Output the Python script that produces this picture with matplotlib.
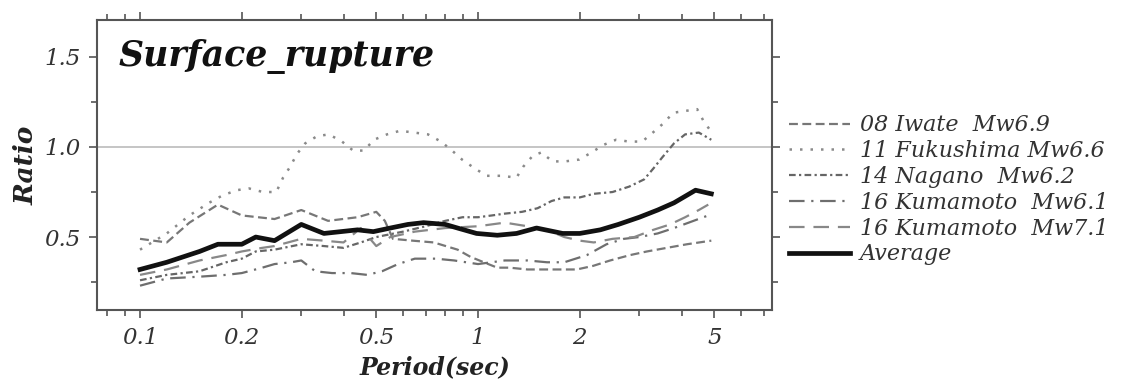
import matplotlib
matplotlib.use("Agg")
import matplotlib.pyplot as plt
from matplotlib.ticker import FixedLocator, NullFormatter

# ---- data ----
iwate_T = [0.1, 0.12, 0.14, 0.17, 0.2, 0.25, 0.3, 0.36, 0.44, 0.5, 0.53, 0.56, 0.64,
           0.74, 0.87, 0.95, 1.04, 1.14, 1.24, 1.4, 1.56, 1.75, 1.96, 2.19, 2.46,
           2.82, 3.16, 3.62, 4.15, 4.9]
iwate_R = [0.49, 0.47, 0.58, 0.68, 0.62, 0.60, 0.65, 0.59, 0.61, 0.64, 0.59, 0.49, 0.48,
           0.47, 0.43, 0.39, 0.36, 0.33, 0.33, 0.32, 0.32, 0.32, 0.32, 0.34, 0.37,
           0.40, 0.42, 0.44, 0.46, 0.48]

fuku_T = [0.1, 0.12, 0.14, 0.16, 0.175, 0.193, 0.21, 0.231, 0.253, 0.265, 0.278, 0.291,
          0.308, 0.334, 0.362, 0.396, 0.427, 0.46, 0.492, 0.538, 0.588, 0.647, 0.711,
          0.777, 0.838, 0.897, 0.98, 1.06, 1.17, 1.3, 1.36, 1.45, 1.54, 1.66, 1.81,
          1.99, 2.17, 2.34, 2.56, 2.8, 3.06, 3.29, 3.53, 3.78, 4.1, 4.45, 4.66, 4.92]
fuku_R = [0.43, 0.52, 0.62, 0.69, 0.73, 0.76, 0.77, 0.75, 0.75, 0.83, 0.89, 0.96,
          1.02, 1.06, 1.07, 1.03, 0.98, 0.98, 1.04, 1.07, 1.09, 1.08, 1.07,
          1.03, 0.98, 0.93, 0.88, 0.84, 0.84, 0.83, 0.89, 0.95, 0.97, 0.92, 0.92,
          0.93, 0.97, 1.01, 1.04, 1.03, 1.03, 1.08, 1.13, 1.19, 1.2, 1.21, 1.14, 1.08]

nagano_T = [0.1, 0.12, 0.15, 0.18, 0.2, 0.22, 0.25, 0.3, 0.35, 0.4, 0.45, 0.5, 0.6,
            0.7, 0.8, 0.9, 1.0, 1.1, 1.2, 1.35, 1.5, 1.65, 1.8, 2.0, 2.2, 2.5, 2.8,
            3.1, 3.3, 3.5, 3.8, 4.1, 4.5, 4.9]
nagano_R = [0.26, 0.29, 0.31, 0.36, 0.38, 0.42, 0.43, 0.46, 0.45, 0.44, 0.47, 0.50, 0.53,
            0.56, 0.59, 0.61, 0.61, 0.62, 0.63, 0.64, 0.66, 0.70, 0.72, 0.72, 0.74, 0.75,
            0.78, 0.82, 0.88, 0.94, 1.02, 1.07, 1.08, 1.04]

kuma61_T = [0.1, 0.12, 0.15, 0.18, 0.2, 0.23, 0.25, 0.28, 0.3, 0.33, 0.37, 0.42, 0.47,
            0.52, 0.58, 0.65, 0.75, 0.85, 1.0, 1.2, 1.4, 1.6, 1.8, 2.1, 2.4, 2.7,
            3.0, 3.4, 3.8, 4.2, 4.8]
kuma61_R = [0.23, 0.27, 0.28, 0.29, 0.30, 0.33, 0.35, 0.36, 0.37, 0.31, 0.30, 0.30, 0.29,
            0.31, 0.35, 0.38, 0.38, 0.37, 0.35, 0.37, 0.37, 0.36, 0.36, 0.40, 0.46, 0.49,
            0.50, 0.52, 0.55, 0.58, 0.62]

kuma71_T = [0.1, 0.12, 0.15, 0.18, 0.2, 0.23, 0.25, 0.3, 0.35, 0.4, 0.45, 0.5, 0.55,
            0.65, 0.8, 1.0, 1.2, 1.4, 1.6, 1.8, 2.0, 2.2, 2.5, 2.9, 3.3, 3.7, 4.1,
            4.5, 4.8]
kuma71_R = [0.29, 0.32, 0.37, 0.40, 0.42, 0.44, 0.45, 0.49, 0.48, 0.47, 0.55, 0.45, 0.50,
            0.53, 0.55, 0.56, 0.58, 0.56, 0.54, 0.50, 0.48, 0.47, 0.49, 0.50, 0.54, 0.57,
            0.61, 0.65, 0.68]

avg_T = [0.1, 0.12, 0.15, 0.17, 0.2, 0.22, 0.25, 0.3, 0.35, 0.44, 0.49, 0.55, 0.62,
         0.69, 0.8, 0.87, 0.99, 1.14, 1.3, 1.49, 1.78, 2.0, 2.3, 2.6, 3.0, 3.4, 3.8,
         4.4, 4.9]
avg_R = [0.32, 0.36, 0.42, 0.46, 0.46, 0.50, 0.48, 0.57, 0.52, 0.54, 0.53, 0.55, 0.57,
         0.58, 0.57, 0.55, 0.52, 0.51, 0.52, 0.55, 0.52, 0.52, 0.54, 0.57, 0.61, 0.65,
         0.69, 0.76, 0.74]

labels = ["08 Iwate  Mw6.9", "11 Fukushima Mw6.6", "14 Nagano  Mw6.2",
          "16 Kumamoto  Mw6.1", "16 Kumamoto  Mw7.1", "Average"]

xticks = [0.1, 0.2, 0.5, 1, 2, 5]
xticklabels = ["0.1", "0.2", "0.5", "1", "2", "5"]
xminor = [0.08, 0.09, 0.3, 0.4, 0.6, 0.7, 0.8, 0.9, 3, 4, 6, 7]
yticks = [0.5, 1.0, 1.5]
yminor = [0.25, 0.75, 1.25]

# ---- figure ----
plt.rcParams["font.family"] = ["DejaVu Serif"]
fig = plt.figure(figsize=(11.36, 3.83), dpi=100)
ax = fig.add_axes([0.0854, 0.1906, 0.5942, 0.7572])

ax.axhline(1.0, color="#bbbbbb", lw=1.2, zorder=1)

ax.plot(iwate_T, iwate_R, color="#777777", lw=1.6, dashes=(4, 2), label=labels[0])
ax.plot(fuku_T, fuku_R, color="#8a8a8a", lw=1.8, dashes=(1, 3.2), label=labels[1])
ax.plot(nagano_T, nagano_R, color="#666666", lw=1.6, dashes=(3, 1.5, 1, 1.5), label=labels[2])
ax.plot(kuma61_T, kuma61_R, color="#6e6e6e", lw=1.6, dashes=(7, 3, 1, 3), label=labels[3])
ax.plot(kuma71_T, kuma71_R, color="#888888", lw=1.6, dashes=(7, 4), label=labels[4])
ax.plot(avg_T, avg_R, color="#111111", lw=3.4, label=labels[5], zorder=5)

ax.set_xscale("log")
ax.set_xlim(0.0746, 7.41)
ax.set_ylim(0.095, 1.705)

ax.xaxis.set_major_locator(FixedLocator(xticks))
ax.set_xticklabels(xticklabels)
ax.xaxis.set_minor_locator(FixedLocator(xminor))
ax.xaxis.set_minor_formatter(NullFormatter())
ax.set_yticks(yticks)
ax.set_yticklabels(["0.5", "1.0", "1.5"])
ax.yaxis.set_minor_locator(FixedLocator(yminor))

ax.tick_params(which="both", direction="out", top=True, right=True, colors="#555555",
               labelcolor="#333333", width=1.2)
ax.tick_params(which="major", length=6, pad=6, labelsize=16.5)
ax.tick_params(which="minor", length=4)
for lab in ax.get_xticklabels() + ax.get_yticklabels():
    lab.set_style("italic")

for sp in ax.spines.values():
    sp.set_color("#555555")
    sp.set_linewidth(1.5)

ax.text(0.032, 0.875, "Surface_rupture", transform=ax.transAxes, fontsize=25,
        fontweight="bold", style="italic", color="#111111", va="center")

ax.set_xlabel("Period(sec)", fontsize=17, fontweight="bold", style="italic",
              color="#222222", labelpad=5)
ax.set_ylabel("Ratio", fontsize=19, fontweight="bold", style="italic",
              color="#222222", labelpad=4)

leg = ax.legend(loc="upper left", bbox_to_anchor=(1.012, 0.705), frameon=False,
                handlelength=2.75, handletextpad=0.45, labelspacing=0.17,
                borderaxespad=0, borderpad=0.4, prop={"style": "italic", "size": 16})
for t in leg.get_texts():
    t.set_color("#333333")

fig.savefig("out.png", dpi=100, facecolor="white")
